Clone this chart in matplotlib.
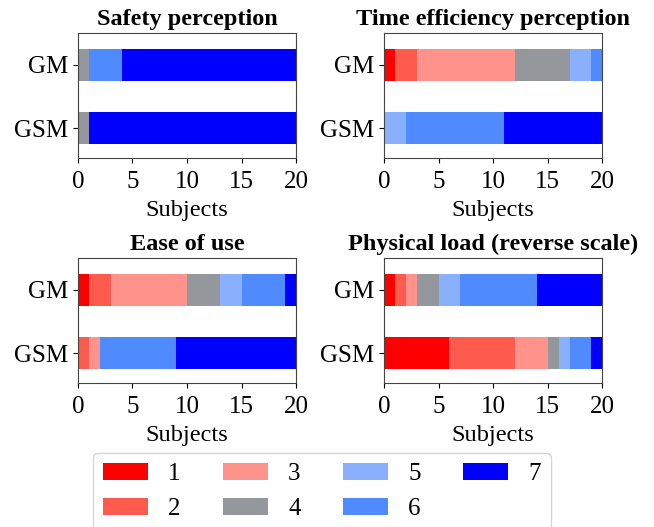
import numpy as np
import matplotlib
matplotlib.use("Agg")
import matplotlib.pyplot as plt

plt.rcParams['font.family'] = ['Liberation Serif', 'DejaVu Serif']
plt.rcParams['font.size'] = 18
plt.rcParams['axes.edgecolor'] = '#444444'

groups = ['GM', 'GSM']
levels = ['1', '2', '3', '4', '5', '6', '7']
colors = ['#ff0000', '#ff5a4e', '#ff928b', '#94979b', '#8aaffc', '#4f8aff', '#0000ff']

titles = ['Safety perception', 'Time efficiency perception',
          'Ease of use', 'Physical load (reverse scale)']

# counts per level 1..7, rows = GM, GSM
safety = [[0, 0, 0, 1, 0, 3, 16],
          [0, 0, 0, 1, 0, 0, 19]]
time_eff = [[1, 2, 9, 5, 2, 1, 0],
            [0, 0, 0, 0, 2, 9, 9]]
ease = [[1, 2, 7, 3, 2, 4, 1],
        [0, 1, 1, 0, 0, 7, 11]]
physical = [[1, 1, 1, 2, 2, 7, 6],
            [6, 6, 3, 1, 1, 2, 1]]

data = [safety, time_eff, ease, physical]

fig = plt.figure(figsize=(6.54, 5.27), dpi=100)
lefts = [0.119, 0.587, 0.119, 0.587]
bottoms = [0.700, 0.700, 0.273, 0.273]
w, h = 0.334, 0.237

for i in range(4):
    ax = fig.add_axes([lefts[i], bottoms[i], w, h])
    counts = np.array(data[i])
    ypos = np.array([1, 0])
    left = np.zeros(len(groups))
    for j in range(len(levels)):
        ax.barh(ypos, counts[:, j], left=left, height=0.5,
                color=colors[j], label=levels[j])
        left += counts[:, j]
    ax.set_yticks(ypos)
    ax.set_yticklabels(groups)
    ax.set_ylim(-0.47, 1.5)
    ax.set_xlim(0, 20)
    ax.set_xticks([0, 5, 10, 15, 20])
    ax.tick_params(axis='x', pad=6)
    ax.set_xlabel('Subjects', fontsize=17.5, labelpad=5)
    ax.set_title(titles[i], fontweight='bold', fontsize=17.5, pad=6)
    if i == 0:
        handles, labels = ax.get_legend_handles_labels()

fig.legend(handles, labels, loc='upper center', bbox_to_anchor=(0.492, 0.141),
           borderaxespad=0, ncol=4, fontsize=18, handlelength=1.8,
           handleheight=0.7, columnspacing=1.7)

fig.savefig('out.png', dpi=100)
